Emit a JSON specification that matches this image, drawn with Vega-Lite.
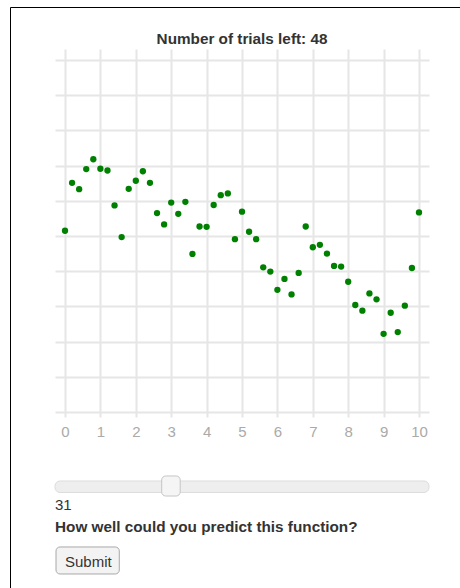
{
  "$schema": "https://vega.github.io/schema/vega-lite/v6.json",
  "width": 450,
  "height": 581,
  "autosize": {"type": "none"},
  "padding": {"left": 10, "top": 7, "right": 0, "bottom": 0},
  "background": "white",
  "title": {"text": "Number of trials left: 48", "font": "Liberation Sans", "fontSize": 15.3, "fontWeight": "bold", "color": "#333333", "offset": -40, "dx": 7, "frame": "group", "anchor": "middle"},
  "config": {"view": {"stroke": null}},
  "datasets": {
    "points": [
      {"x": 0, "y": 5.15}, {"x": 0.2, "y": 6.51}, {"x": 0.4, "y": 6.33}, {"x": 0.6, "y": 6.9}, {"x": 0.8, "y": 7.18},
      {"x": 1.0, "y": 6.91}, {"x": 1.2, "y": 6.86}, {"x": 1.4, "y": 5.87}, {"x": 1.6, "y": 4.97}, {"x": 1.8, "y": 6.34},
      {"x": 2.0, "y": 6.57}, {"x": 2.2, "y": 6.84}, {"x": 2.4, "y": 6.51}, {"x": 2.6, "y": 5.65}, {"x": 2.8, "y": 5.33},
      {"x": 3.0, "y": 5.95}, {"x": 3.2, "y": 5.63}, {"x": 3.4, "y": 5.97}, {"x": 3.6, "y": 4.49}, {"x": 3.8, "y": 5.27},
      {"x": 4.0, "y": 5.26}, {"x": 4.2, "y": 5.88}, {"x": 4.4, "y": 6.16}, {"x": 4.6, "y": 6.21}, {"x": 4.8, "y": 4.91},
      {"x": 5.0, "y": 5.69}, {"x": 5.2, "y": 5.12}, {"x": 5.4, "y": 4.91}, {"x": 5.6, "y": 4.11}, {"x": 5.8, "y": 3.99},
      {"x": 6.0, "y": 3.47}, {"x": 6.2, "y": 3.78}, {"x": 6.4, "y": 3.34}, {"x": 6.6, "y": 3.95}, {"x": 6.8, "y": 5.27},
      {"x": 7.0, "y": 4.68}, {"x": 7.2, "y": 4.75}, {"x": 7.4, "y": 4.5}, {"x": 7.6, "y": 4.15}, {"x": 7.8, "y": 4.13},
      {"x": 8.0, "y": 3.7}, {"x": 8.2, "y": 3.04}, {"x": 8.4, "y": 2.88}, {"x": 8.6, "y": 3.37}, {"x": 8.8, "y": 3.2},
      {"x": 9.0, "y": 2.22}, {"x": 9.2, "y": 2.82}, {"x": 9.4, "y": 2.27}, {"x": 9.6, "y": 3.02}, {"x": 9.8, "y": 4.09},
      {"x": 10.0, "y": 5.67}
    ],
    "ui": [
      {"value": 31, "question": "How well could you predict this function?", "button": "Submit"}
    ]
  },
  "layer": [
    {
      "data": {"name": "points"},
      "mark": {"type": "point", "filled": true, "color": "#008000", "size": 40, "opacity": 1},
      "encoding": {
        "x": {
          "field": "x", "type": "quantitative",
          "scale": {"domain": [-0.2825, 10.2825], "range": [45, 419], "nice": false, "zero": false, "padding": 0},
          "axis": {"orient": "top", "offset": -432, "values": [0, 1, 2, 3, 4, 5, 6, 7, 8, 9, 10], "grid": true, "gridColor": "#e6e6e6", "gridWidth": 2, "domain": false, "ticks": false, "labelFont": "Liberation Sans", "labelFontSize": 15, "labelColor": "#aaaaaa", "labelPadding": 0, "labelBaseline": "bottom", "labelFlush": false, "title": null}
        },
        "y": {
          "field": "y", "type": "quantitative",
          "scale": {"domain": [-0.142, 10.3125], "range": [410, 42], "nice": false, "zero": false, "padding": 0},
          "axis": {"orient": "left", "values": [0, 1, 2, 3, 4, 5, 6, 7, 8, 9, 10], "grid": true, "gridColor": "#e6e6e6", "gridWidth": 2, "domain": false, "ticks": false, "labels": false, "title": null}
        }
      }
    },
    {
      "data": {"name": "ui"},
      "layer": [
        {
          "mark": {"type": "rect", "cornerRadius": 5, "fill": "#eeeeee", "stroke": "#dddddd", "strokeWidth": 1},
          "encoding": {
            "x": {"datum": 0, "type": "quantitative", "scale": {"domain": [-12.032, 108.289], "nice": false, "zero": false, "padding": 0}, "axis": {"orient": "top", "domain": true, "domainColor": "#000000", "domainWidth": 1, "labels": false, "ticks": false, "grid": false, "title": null}},
            "x2": {"datum": 100},
            "y": {"datum": 81.58, "type": "quantitative", "scale": {"domain": [0, 100], "reverse": true, "nice": false, "zero": false, "padding": 0}, "axis": {"orient": "left", "domain": true, "domainColor": "#000000", "domainWidth": 1, "labels": false, "ticks": false, "grid": false, "title": null}},
            "y2": {"datum": 83.56}
          }
        },
        {
          "mark": {"type": "bar", "width": 18.5, "cornerRadius": 4, "fill": "#f5f5f5", "stroke": "#c5c5c5", "strokeWidth": 1},
          "encoding": {
            "x": {"field": "value", "type": "quantitative", "scale": {"domain": [-12.032, 108.289], "nice": false, "zero": false, "padding": 0}, "axis": {"orient": "top", "domain": true, "domainColor": "#000000", "domainWidth": 1, "labels": false, "ticks": false, "grid": false, "title": null}},
            "y": {"datum": 80.72, "type": "quantitative", "scale": {"domain": [0, 100], "reverse": true, "nice": false, "zero": false, "padding": 0}, "axis": {"orient": "left", "domain": true, "domainColor": "#000000", "domainWidth": 1, "labels": false, "ticks": false, "grid": false, "title": null}},
            "y2": {"datum": 84.17}
          }
        },
        {
          "mark": {"type": "text", "align": "left", "baseline": "middle", "font": "Liberation Sans", "fontSize": 15, "color": "#333333"},
          "encoding": {
            "text": {"field": "value", "type": "quantitative"},
            "x": {"datum": 0, "type": "quantitative", "scale": {"domain": [-12.032, 108.289], "nice": false, "zero": false, "padding": 0}, "axis": {"orient": "top", "domain": true, "domainColor": "#000000", "domainWidth": 1, "labels": false, "ticks": false, "grid": false, "title": null}},
            "y": {"datum": 85.71, "type": "quantitative", "scale": {"domain": [0, 100], "reverse": true, "nice": false, "zero": false, "padding": 0}, "axis": {"orient": "left", "domain": true, "domainColor": "#000000", "domainWidth": 1, "labels": false, "ticks": false, "grid": false, "title": null}}
          }
        },
        {
          "mark": {"type": "text", "align": "left", "baseline": "middle", "font": "Liberation Sans", "fontSize": 15.3, "fontWeight": "bold", "color": "#333333"},
          "encoding": {
            "text": {"field": "question", "type": "nominal"},
            "x": {"datum": 0, "type": "quantitative", "scale": {"domain": [-12.032, 108.289], "nice": false, "zero": false, "padding": 0}, "axis": {"orient": "top", "domain": true, "domainColor": "#000000", "domainWidth": 1, "labels": false, "ticks": false, "grid": false, "title": null}},
            "y": {"datum": 89.5, "type": "quantitative", "scale": {"domain": [0, 100], "reverse": true, "nice": false, "zero": false, "padding": 0}, "axis": {"orient": "left", "domain": true, "domainColor": "#000000", "domainWidth": 1, "labels": false, "ticks": false, "grid": false, "title": null}}
          }
        },
        {
          "mark": {"type": "rect", "cornerRadius": 4, "fill": "#f3f3f3", "stroke": "#a8a8a8", "strokeWidth": 1},
          "encoding": {
            "x": {"datum": 0.27, "type": "quantitative", "scale": {"domain": [-12.032, 108.289], "nice": false, "zero": false, "padding": 0}, "axis": {"orient": "top", "domain": true, "domainColor": "#000000", "domainWidth": 1, "labels": false, "ticks": false, "grid": false, "title": null}},
            "x2": {"datum": 17.19},
            "y": {"datum": 92.94, "type": "quantitative", "scale": {"domain": [0, 100], "reverse": true, "nice": false, "zero": false, "padding": 0}, "axis": {"orient": "left", "domain": true, "domainColor": "#000000", "domainWidth": 1, "labels": false, "ticks": false, "grid": false, "title": null}},
            "y2": {"datum": 97.59}
          }
        },
        {
          "mark": {"type": "text", "align": "center", "baseline": "middle", "font": "Liberation Sans", "fontSize": 15, "color": "#333333"},
          "encoding": {
            "text": {"field": "button", "type": "nominal"},
            "x": {"datum": 8.9, "type": "quantitative", "scale": {"domain": [-12.032, 108.289], "nice": false, "zero": false, "padding": 0}, "axis": {"orient": "top", "domain": true, "domainColor": "#000000", "domainWidth": 1, "labels": false, "ticks": false, "grid": false, "title": null}},
            "y": {"datum": 95.52, "type": "quantitative", "scale": {"domain": [0, 100], "reverse": true, "nice": false, "zero": false, "padding": 0}, "axis": {"orient": "left", "domain": true, "domainColor": "#000000", "domainWidth": 1, "labels": false, "ticks": false, "grid": false, "title": null}}
          }
        }
      ]
    }
  ],
  "resolve": {"scale": {"x": "independent", "y": "independent"}}
}
